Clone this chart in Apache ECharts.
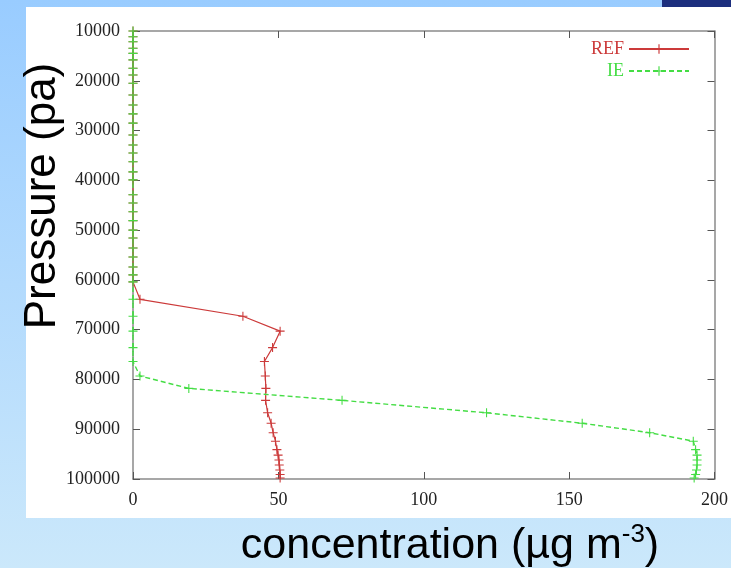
<!DOCTYPE html>
<html>
<head>
<meta charset="utf-8">
<script src="https://cdn.jsdelivr.net/npm/echarts@6/dist/echarts.min.js"></script>
<style>
html,body{margin:0;padding:0;}
#chart{width:731px;height:568px;}
</style>
</head>
<body>
<div id="chart"></div>
<script>
// Pressure levels (Pa) shared by both profiles
var pressureLevels = [10000, 11150, 12150, 13450, 14500, 15800, 17500, 18850, 20500, 22850,
  24850, 26650, 28500, 30900, 32900, 34500, 36250, 38300, 39900, 42900,
  44550, 46300, 48100, 50000, 51600, 53600, 55400, 57400, 59000, 60400,
  63900, 67300, 70300, 73600, 76400, 79300, 81800, 84200, 86700, 88800,
  90700, 92400, 94100, 95200, 96200, 97200, 98200, 99100, 99800];
// Concentration (µg m-3)
var refConcentration = [0, 0, 0, 0, 0, 0, 0, 0, 0, 0,
  0, 0, 0, 0, 0, 0, 0, 0, 0, 0,
  0, 0, 0, 0, 0, 0, 0, 0, 0, 0,
  2.4, 37.8, 50.6, 48.0, 45.2, 45.5, 45.7, 45.6, 46.3, 47.5,
  48.2, 49.0, 49.5, 49.9, 50.2, 50.3, 50.5, 50.6, 50.6];
var ieConcentration = [0, 0, 0, 0, 0, 0, 0, 0, 0, 0,
  0, 0, 0, 0, 0, 0, 0, 0, 0, 0,
  0, 0, 0, 0, 0, 0, 0, 0, 0, 0,
  0, 0, 0, 0, 0, 2.4, 19.2, 71.9, 121.6, 154.5,
  177.7, 192.7, 193.5, 194.0, 194.0, 194.0, 193.8, 193.5, 193.0];
var xTicks = {min: 0, max: 200, interval: 50};
var yTicks = {min: 10000, max: 100000, interval: 10000};
var seriesNames = ['REF', 'IE'];

function zip(xs, ys) { return xs.map(function (v, i) { return [v, ys[i]]; }); }

var plus = 'path://M4.4,0H5.6V4.4H10V5.6H5.6V10H4.4V5.6H0V4.4H4.4Z';
var axisGray = '#8a8a8a';
var serif = '"Liberation Serif", "Times New Roman", serif';
var sans = '"Liberation Sans", Arial, sans-serif';
var redC = '#cc3a3a', greenC = '#44dd44';

var chart = echarts.init(document.getElementById('chart'));
function plain(v) { return String(v); }
function mkX(pos, showLabel) {
  return {
    type: 'value', position: pos, min: xTicks.min, max: xTicks.max, interval: xTicks.interval,
    axisLine: {show: true, onZero: false, lineStyle: {color: axisGray, width: 1.5}},
    axisTick: {show: true, inside: true, length: 7, lineStyle: {color: '#555', width: 1}},
    axisLabel: {show: showLabel, margin: 12, color: '#222', fontFamily: serif, fontSize: 18, formatter: plain},
    splitLine: {show: false}
  };
}
function mkY(pos, showLabel) {
  return {
    type: 'value', position: pos, inverse: true, min: yTicks.min, max: yTicks.max, interval: yTicks.interval,
    axisLine: {show: true, onZero: false, lineStyle: {color: axisGray, width: 1.5}},
    axisTick: {show: true, inside: true, length: 7, lineStyle: {color: '#555', width: 1}},
    axisLabel: {show: showLabel, margin: 13, color: '#222', fontFamily: serif, fontSize: 18, formatter: plain},
    splitLine: {show: false}
  };
}
chart.setOption({
  animation: false,
  backgroundColor: {type: 'linear', x: 0, y: 0, x2: 0, y2: 1,
    colorStops: [{offset: 0, color: '#99ccff'}, {offset: 1, color: '#cbe8fb'}]},
  graphic: [
    {type: 'rect', shape: {x: 26, y: 7, width: 705, height: 511}, style: {fill: '#ffffff'}, z: -10},
    {type: 'rect', shape: {x: 662, y: 0, width: 69, height: 7}, style: {fill: '#1d2f7e'}, z: -10},
    {type: 'text', x: 43, y: 196, rotation: Math.PI / 2,
      style: {text: 'Pressure (pa)', fill: '#000', font: '44px "Liberation Sans", Arial, sans-serif',
        textAlign: 'center', textVerticalAlign: 'middle'}},
    {type: 'text', x: 450, y: 546,
      style: {text: '{a|concentration (µg m}{s|-3}{a|)}', textAlign: 'center', textVerticalAlign: 'middle',
        rich: {
          a: {fontSize: 43, fontFamily: sans, color: '#000', lineHeight: 48},
          s: {fontSize: 26, fontFamily: sans, color: '#000', verticalAlign: 'top', lineHeight: 48, padding: [0, 0, 16, 0]}
        }}}
  ],
  grid: {left: 133, right: 14, top: 31, bottom: 89, containLabel: false},
  legend: {
    orient: 'vertical', right: 36, top: 35, align: 'right', itemGap: 4,
    itemWidth: 60, itemHeight: 12,
    data: [
      {name: seriesNames[0], textStyle: {color: redC}},
      {name: seriesNames[1], textStyle: {color: greenC}}
    ],
    textStyle: {fontFamily: serif, fontSize: 18}
  },
  xAxis: [mkX('bottom', true), mkX('top', false)],
  yAxis: [mkY('left', true), mkY('right', false)],
  series: [
    {name: seriesNames[0], type: 'line', data: zip(refConcentration, pressureLevels),
      symbol: plus, symbolSize: 9, showAllSymbol: true,
      lineStyle: {color: redC, width: 1.2}, itemStyle: {color: redC}},
    {name: seriesNames[1], type: 'line', data: zip(ieConcentration, pressureLevels),
      symbol: plus, symbolSize: 9, showAllSymbol: true,
      lineStyle: {color: greenC, width: 1.4, type: [5, 3]}, itemStyle: {color: greenC}}
  ]
});
</script>
</body>
</html>
